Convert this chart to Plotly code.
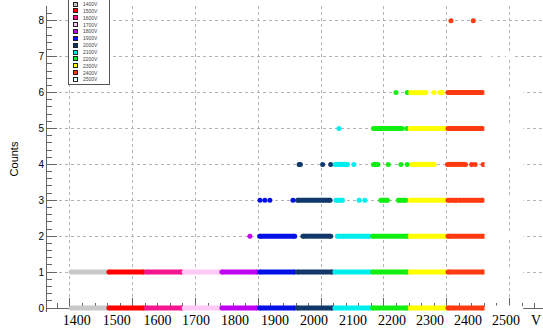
import plotly.graph_objects as go

# ---------------- data ----------------
voltages = [1400, 1500, 1600, 1700, 1800, 1900, 2000, 2100, 2200, 2300, 2400, 2500]
legend_labels = ["1400V", "1500V", "1600V", "1700V", "1800V", "1900V",
                 "2000V", "2100V", "2200V", "2300V", "2400V", "2500V"]
events_per_voltage = 300  # event slots reserved per voltage setting

# runs of events: (counts, first event, last event) within each voltage block
runs_1400 = [(0, 10, 290), (1, 10, 290)]
runs_1500 = [(0, 10, 290), (1, 10, 290)]
runs_1600 = [(0, 10, 290), (1, 10, 290)]
runs_1700 = [(0, 10, 290), (1, 10, 290)]
runs_1800 = [(0, 10, 290), (1, 10, 290), (2, 233, 233)]
runs_1900 = [(0, 10, 290), (1, 10, 290), (2, 10, 290),
             (3, 13, 13), (3, 52, 52), (3, 92, 92), (3, 276, 276)]
runs_2000 = [(0, 10, 290), (1, 10, 290), (2, 55, 277), (3, 12, 272),
             (4, 25, 35), (4, 212, 212), (4, 276, 276)]
runs_2100 = [(0, 10, 290), (1, 10, 290), (2, 30, 285),
             (3, 18, 70), (3, 203, 203), (3, 248, 248),
             (4, 12, 110), (4, 161, 161), (5, 42, 42)]
runs_2200 = [(0, 10, 290), (1, 10, 290), (2, 10, 290),
             (3, 75, 128), (3, 215, 275),
             (4, 17, 52), (4, 135, 135), (4, 236, 236), (4, 286, 286),
             (5, 17, 245), (5, 282, 282), (6, 196, 196), (6, 286, 286)]
runs_2300 = [(0, 10, 290), (1, 10, 290), (2, 10, 290), (3, 10, 290),
             (4, 22, 200), (5, 10, 290),
             (6, 14, 134), (6, 199, 199), (6, 246, 266)]
runs_2400 = [(0, 10, 290), (1, 10, 290), (2, 10, 290),
             (3, 10, 80), (3, 100, 285),
             (4, 6, 150), (4, 199, 199), (4, 226, 226), (4, 290, 290),
             (5, 10, 285), (6, 10, 285), (8, 34, 34), (8, 212, 212)]
runs_2500 = [(0, 20, 290), (1, 20, 290), (2, 20, 290), (3, 20, 290),
             (4, 20, 290), (5, 20, 290), (6, 20, 290),
             (7, 25, 25), (7, 85, 85), (7, 144, 144), (7, 200, 200),
             (8, 18, 18)]

x_tick_labels = ["1400", "1500", "1600", "1700", "1800", "1900", "2000",
                 "2100", "2200", "2300", "2400", "2500", "V"]
y_tick_labels = ["0", "1", "2", "3", "4", "5", "6", "7", "8"]

# ---------------- style ----------------
colors = ["#c8c8c8", "#ff0000", "#f2178f", "#ffc8f5", "#c000f0", "#0010e6",
          "#10386a", "#00eeee", "#11ee11", "#ffff00", "#ff3a10", "#ffffff"]
x_label_pos = [53, 372, 697, 1003, 1314, 1633, 1943, 2254, 2564, 2867, 3170, 3472, 3711]

all_runs = [runs_1400, runs_1500, runs_1600, runs_1700, runs_1800, runs_1900,
            runs_2000, runs_2100, runs_2200, runs_2300, runs_2400, runs_2500]

W, H = 543, 333
L, R, T, B = 47, 0, 6, 21
plot_w = W - L - R
plot_h = H - T - B
axis_py = 308            # pixel row of the counts=0 axis
px_per_count = 35.9
x_range = [-183, 3767]
y_range = [-(T + plot_h - axis_py) / px_per_count, (axis_py - T) / px_per_count]
axis_pos = (T + plot_h - axis_py) / plot_h

fig = go.Figure()
for k, (v, col, runs) in enumerate(zip(voltages, colors, all_runs)):
    xs, ys = [], []
    base = k * events_per_voltage
    for cnt, s, e in runs:
        if s == e:
            xs += [base + s, None]
            ys += [cnt, None]
        else:
            xs += [base + s, base + e, None]
            ys += [cnt, cnt, None]
    fig.add_trace(go.Scatter(
        x=xs, y=ys, mode="lines+markers", name=f"{v}V",
        xaxis="x2" if k == len(voltages) - 1 else "x",
        line=dict(color=col, width=5),
        marker=dict(color=col, size=5, line=dict(width=0)),
        cliponaxis=False, showlegend=False, hoverinfo="skip"))

axis_col = "#666666"
grid_col = "#b4b4b4"

fig.update_layout(
    width=W, height=H,
    margin=dict(l=L, r=R, t=T, b=B, pad=0),
    paper_bgcolor="white", plot_bgcolor="white",
    showlegend=False,
    xaxis=dict(
        range=x_range, autorange=False, automargin=False,
        anchor="free", position=axis_pos,
        tickmode="array", tickvals=[0, 500, 1000, 1500, 2000, 2500, 3000, 3500],
        showticklabels=False,
        ticks="inside", ticklen=10, tickcolor=axis_col, tickwidth=1,
        minor=dict(dtick=100, tick0=0, ticks="inside", ticklen=5,
                   tickcolor=axis_col, showgrid=False),
        showgrid=True, gridcolor=grid_col, griddash="dot", gridwidth=1,
        showline=True, linecolor=axis_col, linewidth=1, mirror=True,
        zeroline=False, layer="below traces",
    ),
    xaxis2=dict(
        overlaying="x", anchor="free", position=axis_pos, side="bottom",
        range=x_range, autorange=False, automargin=False,
        tickmode="array", tickvals=x_label_pos, ticktext=x_tick_labels,
        ticks="", showgrid=False, showline=False, zeroline=False,
        tickfont=dict(family="Liberation Serif", size=14, color="black"),
        ticklabelstandoff=2, layer="below traces",
    ),
    yaxis=dict(
        range=y_range, autorange=False, automargin=False,
        tickmode="array", tickvals=list(range(9)), ticktext=y_tick_labels,
        ticks="inside", ticklen=10, tickcolor=axis_col, tickwidth=1,
        minor=dict(dtick=0.2, tick0=0, ticks="inside", ticklen=5,
                   tickcolor=axis_col, showgrid=False),
        showgrid=True, gridcolor=grid_col, griddash="dot", gridwidth=1,
        showline=True, linecolor=axis_col, linewidth=1, mirror=False,
        zeroline=False, layer="below traces",
        tickfont=dict(family="Liberation Sans", size=10, color="black"),
        title=dict(text="Counts", standoff=17,
                   font=dict(family="Liberation Sans", size=11, color="black")),
    ),
)

# ---------------- manual compact legend (ROOT TLegend style) ----------------
def px_x(px):
    return (px - L) / plot_w

def px_y(py):
    return (T + plot_h - py) / plot_h

box_x0, box_x1, box_y0, box_y1 = 68, 109, -2, 84.5
fig.add_annotation(
    xref="paper", yref="paper",
    x=px_x((box_x0 + box_x1) / 2), y=px_y((box_y0 + box_y1) / 2),
    xanchor="center", yanchor="middle", showarrow=False,
    text=" ", font=dict(size=1),
    width=box_x1 - box_x0 - 1, height=box_y1 - box_y0 - 1,
    bgcolor="white", bordercolor="#555555", borderwidth=1, borderpad=0)

for i, (lab, col) in enumerate(zip(legend_labels, colors)):
    py = 4 + 6.86 * i
    fig.add_annotation(
        xref="paper", yref="paper", x=px_x(75.5), y=px_y(py),
        xanchor="center", yanchor="middle", showarrow=False,
        text=" ", font=dict(size=1), width=3, height=3,
        bgcolor=col, bordercolor="#222222", borderwidth=1, borderpad=0)
    fig.add_annotation(
        xref="paper", yref="paper", x=px_x(80.5), y=px_y(py),
        xanchor="left", yanchor="middle", showarrow=False,
        text=lab, font=dict(family="Liberation Sans", size=5, color="#444444"))

fig.write_html("out.html",
               config={"displayModeBar": False},
               post_script="document.body.style.margin='0';document.body.style.padding='0';")
